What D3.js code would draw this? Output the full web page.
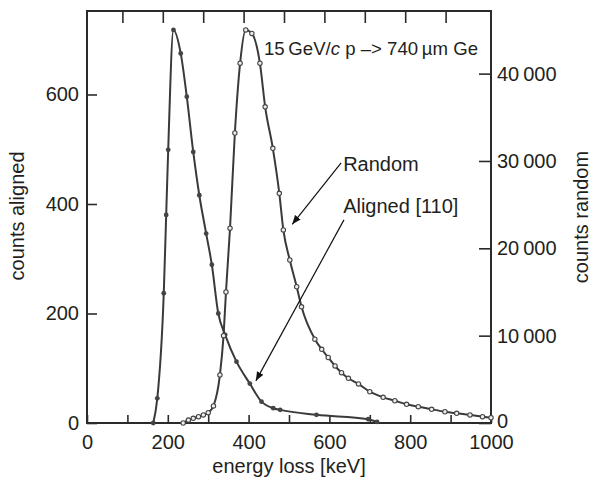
<!DOCTYPE html>
<html lang="en">
<head>
  <meta charset="UTF-8">
  <title>energy loss</title>
  <style>
    body { margin: 0; background: #fff; }
    text { font-family: "Liberation Sans", Arial, Helvetica, sans-serif; fill: #231f20; }
  </style>
</head>
<body>
<div id="chart"></div>
<script src="https://cdn.jsdelivr.net/npm/d3@7"></script>
<script>
// data
let alignedKeV = [164, 174, 190, 196, 201, 214, 232, 247, 263, 278, 295, 309, 325, 342, 370, 403, 432, 461, 478, 568, 696, 718]
let alignedCounts = [0, 45, 237, 380, 499, 718, 675, 596, 495, 416, 346, 289, 200, 161, 112, 72, 39, 27, 24, 15, 7, 2]
let randomKeV = [238, 251, 263, 276, 288, 300, 313, 329, 338, 344, 354, 366, 379, 393, 408, 428, 441, 460, 476, 486, 502, 519, 531, 564, 581, 597, 614, 630, 647, 672, 700, 733, 762, 791, 820, 853, 886, 915, 948, 979, 1000]
let randomCounts = [0, 340, 540, 720, 920, 1180, 1950, 5500, 10000, 15000, 22300, 33200, 41200, 45000, 44600, 41200, 36200, 31450, 26300, 22100, 18660, 15600, 13300, 9600, 8440, 7500, 6530, 5760, 5120, 4470, 3580, 2940, 2550, 2140, 1870, 1570, 1290, 1110, 920, 720, 600]

let xTicks = [0, 100, 200, 300, 400, 500, 600, 700, 800, 900, 1000]
let xTickLabels = ['0', '', '200', '', '400', '', '600', '', '800', '', '1000']
let leftTicks = [0, 200, 400, 600]
let rightTicks = [0, 10000, 20000, 30000, 40000]
let rightTickLabels = ['0', '10\u2009000', '20\u2009000', '30\u2009000', '40\u2009000']

let xtitle = 'energy loss [keV]'
let ytitle = 'counts aligned'
let y2title = 'counts random'

// annotations, in keV / aligned counts
let labels = [
  { text: 'Random', x: 634, y: 460 },
  { text: 'Aligned [110]', x: 634, y: 384 }
]
let arrows = [
  { x1: 629, y1: 475, x2: 508, y2: 363 },
  { x1: 636, y1: 371, x2: 418, y2: 77 }
]

let width = 591
let height = 483
let mLeft = 87, mTop = 11, mRight = 491, mBottom = 423
let ink = '#2b2b2b'

let svg = d3.select('#chart').append('svg').attr('width', width).attr('height', height)

let x = d3.scaleLinear().domain([0, 1000]).range([mLeft, mRight])
let yL = d3.scaleLinear().domain([0, 752.5]).range([mBottom, mTop])
let yR = d3.scaleLinear().domain([0, 47170]).range([mBottom, mTop])

// axes, ticks pointing inwards
let xAxis = d3.axisBottom(x).tickValues(xTicks).tickSize(-8).tickPadding(12)
  .tickFormat((d, i) => xTickLabels[i])
svg.append('g').attr('transform', 'translate(0,' + mBottom + ')').call(xAxis)

let topAxis = d3.axisTop(x).tickValues(xTicks.slice(1, -1)).tickSize(-12).tickFormat('')
svg.append('g').attr('transform', 'translate(-5,' + mTop + ')').call(topAxis)

let yAxis = d3.axisLeft(yL).tickValues(leftTicks).tickSize(-10).tickPadding(8)
svg.append('g').attr('transform', 'translate(' + mLeft + ',0)').call(yAxis)

let yAxis2 = d3.axisRight(yR).tickValues(rightTicks).tickSize(-12).tickPadding(6)
  .tickFormat((d, i) => rightTickLabels[i])
let gR = svg.append('g').attr('transform', 'translate(' + mRight + ',0)').call(yAxis2)
gR.selectAll('.tick text').attr('dy', (d) => d === 0 ? '0.2em' : '0.32em')

svg.selectAll('.domain').remove()
svg.selectAll('.tick line').attr('stroke', ink).attr('stroke-width', 1.6)
svg.selectAll('.tick text').attr('font-size', 20).attr('fill', '#231f20')
  .attr('font-family', '"Liberation Sans", Arial, sans-serif')

// frame
svg.append('rect').attr('x', mLeft).attr('y', mTop).attr('width', mRight - mLeft).attr('height', mBottom - mTop)
  .attr('fill', 'none').attr('stroke', ink).attr('stroke-width', 2)

// curves
let lineA = d3.line().x((d, i) => x(alignedKeV[i])).y(d => yL(d)).curve(d3.curveMonotoneX)
let lineR = d3.line().x((d, i) => x(randomKeV[i])).y(d => yR(d)).curve(d3.curveMonotoneX)

svg.append('path').attr('d', lineA(alignedCounts)).attr('fill', 'none').attr('stroke', '#3a3a3a').attr('stroke-width', 2)
svg.append('path').attr('d', lineR(randomCounts)).attr('fill', 'none').attr('stroke', '#3a3a3a').attr('stroke-width', 2)

svg.append('g').selectAll('circle').data(alignedCounts).join('circle')
  .attr('cx', (d, i) => x(alignedKeV[i])).attr('cy', d => yL(d)).attr('r', 2.4)
  .attr('fill', '#444')
svg.append('g').selectAll('circle').data(randomCounts).join('circle')
  .attr('cx', (d, i) => x(randomKeV[i])).attr('cy', d => yR(d)).attr('r', 2.2)
  .attr('fill', '#eee').attr('stroke', '#444').attr('stroke-width', 1.1)

// arrows
svg.append('defs').append('marker').attr('id', 'head')
  .attr('viewBox', '0 0 10 10').attr('refX', 10).attr('refY', 5)
  .attr('markerWidth', 9).attr('markerHeight', 9).attr('markerUnits', 'userSpaceOnUse')
  .attr('orient', 'auto')
  .append('path').attr('d', 'M0,1 L10,5 L0,9 Z').attr('fill', '#111')

arrows.forEach(a => {
  svg.append('line')
    .attr('x1', x(a.x1)).attr('y1', yL(a.y1)).attr('x2', x(a.x2)).attr('y2', yL(a.y2))
    .attr('stroke', '#111').attr('stroke-width', 1.2).attr('marker-end', 'url(#head)')
})

labels.forEach(l => {
  svg.append('text').attr('x', x(l.x)).attr('y', yL(l.y)).attr('font-size', 20).text(l.text)
})

// beam label
let t = svg.append('text').attr('x', x(438)).attr('y', yL(672)).attr('font-size', 18.6)
t.append('tspan').text('15\u2009GeV/')
t.append('tspan').attr('font-style', 'italic').text('c')
t.append('tspan').text(' p \u2013> 740\u2009\u00b5m Ge')

// axis titles
svg.append('text').text(xtitle).attr('font-size', 20).attr('text-anchor', 'middle')
  .attr('x', (mLeft + mRight) / 2).attr('y', 473)
svg.append('text').text(ytitle).attr('font-size', 20).attr('text-anchor', 'middle')
  .attr('transform', 'translate(24,216) rotate(-90)')
svg.append('text').text(y2title).attr('font-size', 20).attr('text-anchor', 'middle')
  .attr('transform', 'translate(588,217) rotate(-90)')
</script>
</body>
</html>
